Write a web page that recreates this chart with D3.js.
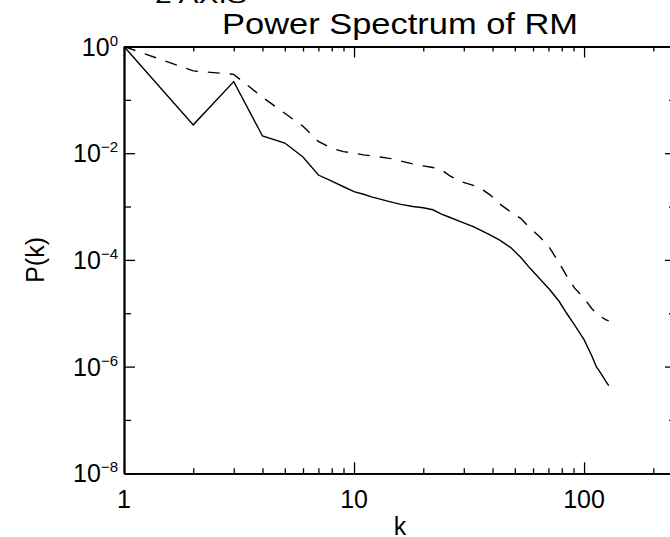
<!DOCTYPE html>
<html>
<head>
<meta charset="utf-8">
<script src="https://cdn.jsdelivr.net/npm/d3@7"></script>
<style>
    body { margin: 0; background: #fff; }
    svg { display: block; }
    text { font-family: "Liberation Sans", Arial, sans-serif; fill: #000; }
</style>
</head>
<body>
<div id="chart"></div>
<script>

// wavenumbers sampled along the curves
let kValues = [1, 2, 3, 4, 5, 6, 7, 8, 9, 10, 11, 12, 13, 14, 15, 16, 18, 20, 22, 24,
    26, 29, 33, 36, 39, 43, 48, 53, 58, 64, 71, 78, 84, 91, 100, 108, 113, 118, 124, 128];

// solid curve
let powerSolid = [1, 3.4e-2, 0.22, 2.1e-2, 1.55e-2, 8.5e-3, 3.9e-3, 3.0e-3, 2.35e-3, 1.9e-3,
    1.7e-3, 1.5e-3, 1.38e-3, 1.26e-3, 1.17e-3, 1.1e-3, 1.0e-3, 9.5e-4, 8.7e-4, 7.2e-4,
    6.3e-4, 5.2e-4, 4.2e-4, 3.5e-4, 2.95e-4, 2.35e-4, 1.7e-4, 1.12e-4, 7.1e-5, 4.5e-5,
    2.75e-5, 1.66e-5, 1.0e-5, 6.0e-6, 3.2e-6, 1.6e-6, 1.0e-6, 7.6e-7, 5.4e-7, 4.4e-7];

// dashed curve
let powerDashed = [1, 0.35, 0.30, 0.112, 5.6e-2, 3.2e-2, 1.66e-2, 1.23e-2, 1.07e-2, 1.0e-2,
    9.3e-3, 8.9e-3, 8.5e-3, 8.1e-3, 7.8e-3, 7.1e-3, 6.3e-3, 5.8e-3, 5.4e-3, 4.9e-3,
    3.8e-3, 2.95e-3, 2.5e-3, 2.1e-3, 1.66e-3, 1.12e-3, 7.9e-4, 6.0e-4, 4.0e-4, 2.75e-4,
    1.66e-4, 8.7e-5, 5.0e-5, 2.95e-5, 1.9e-5, 1.23e-5, 1.0e-5, 8.7e-6, 7.6e-6, 7.2e-6];

// tick labels
let xMajor = [1, 10, 100];
let xMinor = [2, 3, 4, 5, 6, 7, 8, 9, 20, 30, 40, 50, 60, 70, 80, 90, 200];
let yMajor = [0, -2, -4, -6, -8];
let yMinor = [-1, -3, -5, -7];

class PowerChart {
    constructor(parentElement) {
        this.parentElement = parentElement
        this.initVis()
    }

    initVis() {
        let vis = this;

        vis.width = 670;
        vis.height = 537;
        // plot box, the right edge sits just outside the picture
        vis.box = {left: 124, right: 676, top: 46.5, bottom: 473.3};

        vis.svg = d3.select("#" + vis.parentElement).append("svg")
            .attr("width", vis.width)
            .attr("height", vis.height);

        vis.x = d3.scaleLog().domain([1, 251]).range([vis.box.left, vis.box.right]);
        vis.y = d3.scaleLog().domain([1e-8, 1]).range([vis.box.bottom, vis.box.top]);

        vis.wrangleData()
    }

    wrangleData() {
        let vis = this;
        vis.solid = kValues.map((k, i) => ({k: k, p: powerSolid[i]}));
        vis.dashed = kValues.map((k, i) => ({k: k, p: powerDashed[i]}));
        vis.updateVis()
    }

    drawAxis(axisFn, scale, values, size, transform) {
        let vis = this;
        let g = vis.svg.append("g")
            .attr("transform", transform)
            .call(axisFn(scale).tickValues(values).tickSize(size).tickSizeOuter(0).tickFormat(""));
        g.selectAll("line").attr("stroke", "#000").attr("stroke-width", 1.3);
        g.select(".domain").attr("stroke", "#000").attr("stroke-width", 1.8);
        return g;
    }

    updateVis() {
        let vis = this;
        let b = vis.box;

        let yMajVals = yMajor.map(e => Math.pow(10, e));
        let yMinVals = yMinor.map(e => Math.pow(10, e));

        // ticks point inward on all four sides
        vis.drawAxis(d3.axisBottom, vis.x, xMajor, -11, `translate(0,${b.bottom})`);
        vis.drawAxis(d3.axisBottom, vis.x, xMinor, -5, `translate(0,${b.bottom})`);
        vis.drawAxis(d3.axisTop, vis.x, xMajor, -11, `translate(0,${b.top})`);
        vis.drawAxis(d3.axisTop, vis.x, xMinor, -5, `translate(0,${b.top})`);
        vis.drawAxis(d3.axisLeft, vis.y, yMajVals, -11, `translate(${b.left},0)`);
        vis.drawAxis(d3.axisLeft, vis.y, yMinVals, -7, `translate(${b.left},0)`);
        vis.drawAxis(d3.axisRight, vis.y, yMajVals, -11, `translate(${b.right},0)`);
        vis.drawAxis(d3.axisRight, vis.y, yMinVals, -7, `translate(${b.right},0)`);

        // x tick labels
        vis.svg.selectAll(".xlab")
            .data(xMajor)
            .enter().append("text")
            .attr("class", "xlab")
            .attr("x", d => vis.x(d))
            .attr("y", 507.7)
            .attr("text-anchor", "middle")
            .style("font-size", "25px")
            .text(d => d);

        // y tick labels as 10 with superscript exponent
        let ylab = vis.svg.selectAll(".ylab")
            .data(yMajor)
            .enter().append("text")
            .attr("class", "ylab")
            .attr("x", 118)
            .attr("y", d => vis.y(Math.pow(10, d)) + 9)
            .attr("text-anchor", "end")
            .style("font-size", "25px");
        ylab.append("tspan").text("10");
        ylab.append("tspan")
            .attr("dy", -10)
            .style("font-size", "15px")
            .text(d => d === 0 ? "0" : "\u2212" + (-d));

        // title and axis titles
        vis.svg.append("text")
            .attr("x", (b.left + b.right) / 2)
            .attr("y", 34)
            .attr("text-anchor", "middle")
            .attr("textLength", 356)
            .attr("lengthAdjust", "spacingAndGlyphs")
            .style("font-size", "29px")
            .text("Power Spectrum of RM");

        // leftover label cut off by the top edge
        vis.svg.append("text")
            .attr("x", 155)
            .attr("y", 2.5)
            .attr("textLength", 92)
            .attr("lengthAdjust", "spacingAndGlyphs")
            .style("font-size", "22px")
            .text("2 AXIS");

        vis.svg.append("text")
            .attr("x", (b.left + b.right) / 2)
            .attr("y", 535)
            .attr("text-anchor", "middle")
            .style("font-size", "25px")
            .text("k");

        vis.svg.append("text")
            .attr("transform", "translate(44," + (b.top + b.bottom) / 2 + ") rotate(-90)")
            .attr("text-anchor", "middle")
            .style("font-size", "25px")
            .text("P(k)");

        let line = d3.line()
            .x(d => vis.x(d.k))
            .y(d => vis.y(d.p));

        vis.svg.append("path")
            .datum(vis.solid)
            .attr("fill", "none")
            .attr("stroke", "#000")
            .attr("stroke-width", 1.4)
            .attr("d", line);

        vis.svg.append("path")
            .datum(vis.dashed)
            .attr("fill", "none")
            .attr("stroke", "#000")
            .attr("stroke-width", 1.4)
            .attr("stroke-dasharray", "12,10")
            .attr("d", line);
    }
}

new PowerChart("chart");
</script>
</body>
</html>
